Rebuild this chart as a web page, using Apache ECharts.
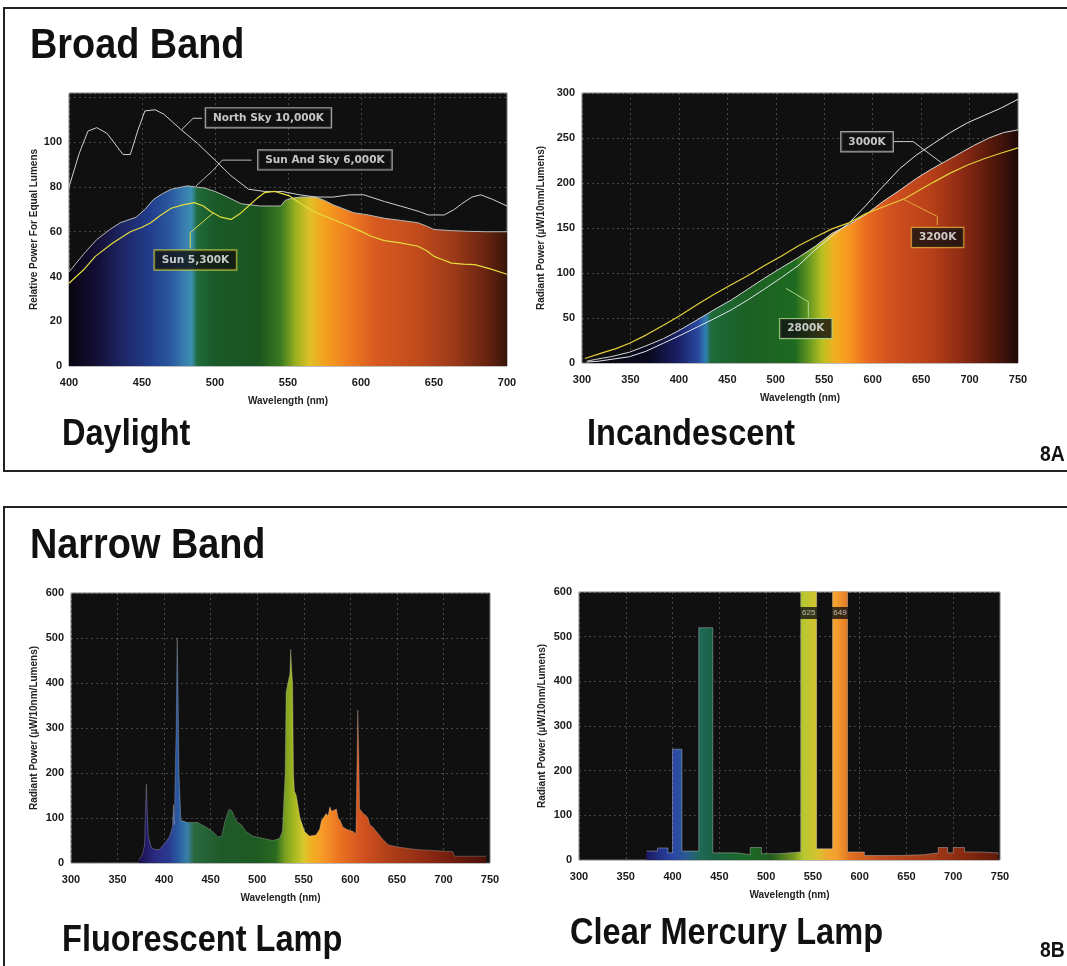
<!DOCTYPE html>
<html>
<head>
<meta charset="utf-8">
<script src="https://cdn.jsdelivr.net/npm/echarts@6/dist/echarts.min.js"></script>
<style>
html,body{margin:0;padding:0;background:#fff;}
#c{width:1067px;height:966px;}
</style>
</head>
<body>
<div id="c"></div>
<script>
// ---------------- DATA ----------------
// Daylight (relative power for equal lumens)
const dayNorthSky = [[400,80],[407,95],[413,105],[419,106.5],[426,104],[433,98],[437,94.5],[442,94.5],[447,105],[452,114],[459,114.5],[465,112.5],[471,109],[477,105.5],[488,99.5],[500,92],[511,85],[523,79],[534,78],[546,78],[558,76.5],[569,75.5],[581,75.5],[592,76.5],[602,76.5],[616,73.5],[627,71.5],[640,69],[646,67.5],[657,67.5],[664,70],[669,72.5],[676,75.5],[682,76.5],[690,74.5],[700,71.5]];
const daySunAndSky = [[400,42],[410,50],[419,56.5],[428,61],[435,64],[446,66.5],[452,70],[458,74.5],[464,77],[470,79],[481,80.5],[493,79.5],[500,78],[507,76],[518,72.5],[531,71.5],[545,71.5],[548,74],[553,75],[558,75.5],[569,75.5],[575,74],[581,72],[595,68.5],[605,67.5],[616,66],[628,65],[639,64],[645,62.5],[650,61],[662,60.5],[673,60.2],[685,60],[700,60]];
const daySun = [[400,37],[410,43],[418,49],[430,55],[442,60],[450,62],[456,64],[463,67.5],[470,70.5],[478,72],[486,73],[492,71.5],[497,69],[504,66.5],[511,65.5],[517,68],[523,71.5],[529,75],[534,77.5],[541,78],[546,77],[551,76],[558,73],[565,70],[573,67.5],[581,65.5],[590,63],[599,60.5],[607,58],[616,56],[627,55],[639,53.5],[645,51.5],[650,49],[656,47.5],[662,46],[670,45.5],[678,45.3],[688,43.5],[700,41]];
const dayNames = ['North Sky 10,000K','Sun And Sky 6,000K','Sun 5,300K'];

// Incandescent (radiant power)
const inc2800 = [[305,1],[317,2],[330,4],[349,7],[366,13],[384,22],[400,30],[419,40],[436,49],[454,59],[471,70],[488,82],[506,95],[523,108],[541,126],[558,141],[576,156],[593,175],[607,192],[628,216],[645,231],[663,244],[680,256],[698,267],[715,275],[732,283],[750,293]];
const inc3000 = [[305,2],[314,4],[330,7],[349,12],[366,19],[384,27],[400,36],[419,48],[436,59],[454,70],[471,82],[488,94],[506,106],[523,117],[541,130],[558,144],[576,154],[593,165],[610,179],[628,192],[645,205],[660,215],[675,224],[690,233],[705,242],[720,250],[735,256],[750,259]];
const inc3200 = [[303,5],[320,11],[335,16],[349,22],[366,31],[384,42],[400,52],[419,65],[436,76],[454,87],[471,97],[488,108],[506,119],[523,130],[541,140],[558,149],[576,156],[593,166],[610,173],[634,183],[648,192],[663,201],[680,211],[698,220],[715,227],[732,233],[750,239]];
const incNames = ['2800K','3000K','3200K'];

// Fluorescent lamp
const fluorescent = [[373,8],[377,20],[379,40],[380,120],[381,175],[382,110],[383,60],[386,35],[390,30],[395,30],[399,40],[403,50],[406,60],[409,80],[410,130],[411,85],[412,210],[413,300],[414,500],[415,380],[416,200],[418,95],[425,90],[436,90],[445,80],[452,70],[458,58],[462,60],[465,90],[468,110],[470,120],[473,115],[476,100],[479,90],[483,85],[488,70],[495,60],[506,55],[517,50],[524,55],[527,70],[530,200],[531,380],[533,400],[535,420],[536,475],[537,430],[538,400],[539,200],[540,160],[542,150],[546,100],[551,70],[556,60],[563,62],[567,75],[569,95],[571,100],[574,110],[576,105],[578,125],[580,115],[582,118],[585,120],[587,100],[589,95],[592,80],[596,75],[600,72],[603,70],[606,65],[607,200],[608,340],[609,250],[610,120],[614,110],[617,105],[619,100],[621,85],[624,80],[628,70],[632,60],[636,50],[641,40],[653,35],[671,30],[689,28],[710,25],[712,15],[746,15]];

// Clear mercury lamp: [bin start (nm), value] held until next bin start
const mercury = [[372,20],[384,27],[395,16],[400,248],[410,20],[428,520],[443,16],[468,12],[483,28],[495,14],[512,18],[537,625],[554,25],[571,649],[587,18],[605,10],[641,12],[669,16],[684,28],[694,16],[700,28],[712,18],[727,16],[748,12]];

// ---------------- STYLE ----------------
const FONT = '"Liberation Sans", Arial, sans-serif';
const daySpec = [[400,'#0a0510'],[420,'#141038'],[435,'#1c2460'],[455,'#223c8c'],[470,'#2a5aa0'],[480,'#3a80b0'],[484,'#3a90b0'],[488,'#206a3a'],[500,'#1a5a28'],[530,'#1a5520'],[545,'#3a7a20'],[555,'#9ab020'],[565,'#e0c028'],[575,'#f4a020'],[590,'#f08020'],[610,'#d85a20'],[640,'#c04a1c'],[665,'#9a3818'],[685,'#6a2410'],[700,'#3a140a']];
const incSpec = [[300,'#08080f'],[370,'#0a0a20'],[400,'#1a2068'],[420,'#2a48a0'],[428,'#3080b0'],[433,'#1f6a3a'],[470,'#1c6024'],[520,'#1e6a20'],[535,'#6a9a20'],[548,'#b8c020'],[560,'#f0b020'],[575,'#f89820'],[595,'#e86820'],[620,'#d05020'],[660,'#b84018'],[690,'#902c14'],[720,'#5a1a0c'],[750,'#200a06']];
const fluSpec = [[373,'#1a1050'],[390,'#2a2a80'],[405,'#2a3a90'],[415,'#2a5aa0'],[425,'#3a80a8'],[432,'#2a6a40'],[460,'#1f5a2a'],[500,'#1e5a22'],[520,'#2a6a20'],[530,'#7aa020'],[540,'#a8b820'],[550,'#d8c830'],[558,'#f0b020'],[570,'#f89a28'],[590,'#e87020'],[615,'#d05020'],[640,'#b04018'],[680,'#902c14'],[715,'#6a1a0c'],[746,'#4a1208']];
const merSpec = [[372,'#1a1a60'],[400,'#2a46a8'],[415,'#2a5a90'],[428,'#1f6a5a'],[445,'#1a6040'],[480,'#1c6a28'],[505,'#205a20'],[530,'#7a9a20'],[540,'#b8c830'],[556,'#d8c030'],[565,'#f0a830'],[575,'#f5a030'],[590,'#e07020'],[620,'#c05020'],[680,'#a03a18'],[710,'#882a10'],[748,'#601a0a']];

function specGradient(stops, data){
  const x0 = data[0][0], x1 = data[data.length-1][0];
  const cs = stops.map(([wl,c]) => ({offset: Math.min(1, Math.max(0, (wl - x0) / (x1 - x0))), color: c}));
  return new echarts.graphic.LinearGradient(0,0,1,0, cs);
}

const grids = [
  {left:69, top:93, width:438, height:273},
  {left:582, top:93, width:436, height:270},
  {left:71, top:593, width:419, height:270},
  {left:579, top:592, width:421, height:268}
].map(g => Object.assign(g, {show:true, backgroundColor:'#101010', borderColor:'#7a7a7a', borderWidth:1, containLabel:false}));

const splitStyle = {show:true, lineStyle:{color:'rgba(200,200,200,0.30)', type:[2,3], width:1}};
const tickLabel = {fontSize:11, fontWeight:'bold', color:'#1a1a1a', fontFamily:FONT};
const axisNameStyle = {fontSize:10, fontWeight:'bold', color:'#222', fontFamily:FONT};

function xAx(gi, min, max){
  return {type:'value', gridIndex:gi, min, max, interval:50,
    name:'Wavelength (nm)', nameLocation:'middle', nameGap:30, nameTextStyle:axisNameStyle,
    axisLine:{show:false}, axisTick:{show:false},
    axisLabel:Object.assign({margin:11}, tickLabel), splitLine:splitStyle};
}
function yAx(gi, min, max, interval, name, gap, showMax){
  return {type:'value', gridIndex:gi, min, max, interval,
    name, nameLocation:'middle', nameGap:gap, nameTextStyle:axisNameStyle,
    axisLine:{show:false}, axisTick:{show:false},
    axisLabel:Object.assign({margin:7, formatter: v => (v <= showMax ? String(v) : '')}, tickLabel),
    splitLine:splitStyle};
}

function lineS(gi, data, color, width, extra){
  return Object.assign({type:'line', xAxisIndex:gi, yAxisIndex:gi, data, showSymbol:false, symbol:'none',
    lineStyle:{color, width}, silent:true, z:3}, extra || {});
}
function leader(gi, pts, color){
  return {type:'line', xAxisIndex:gi, yAxisIndex:gi, data:pts, showSymbol:false, symbol:'none',
    lineStyle:{color, width:1}, silent:true, z:4};
}
function boxLabel(gi, name, at, border){
  return {type:'scatter', xAxisIndex:gi, yAxisIndex:gi, symbolSize:0, silent:true, z:6,
    data:[{name, value:at}],
    label:{show:true, position:'inside', formatter:'{b}', color:'#f2f2f2', fontWeight:'bold', fontSize:10.5,
      fontFamily:'"DejaVu Sans", sans-serif', backgroundColor:'#121212', borderColor:border, borderWidth:1.2, padding:[4,7]}};
}

// Mercury out-of-range labels derived from data
const mercuryOver = [];
mercury.forEach((p,i) => { if (p[1] > 600 && i < mercury.length - 1) mercuryOver.push({name:String(p[1]), value:[(p[0] + mercury[i+1][0]) / 2, 553]}); });

const series = [
  // Daylight
  lineS(0, daySunAndSky, '#b4b8b4', 1, {areaStyle:{color:specGradient(daySpec, daySunAndSky), opacity:1}, z:2}),
  lineS(0, dayNorthSky, '#cfcfcf', 1),
  lineS(0, daySun, '#e4dc3c', 1.2),
  leader(0, [[477,105.5],[485,110.7],[491,110.7]], '#cfcfcf'),
  leader(0, [[487,80.5],[498,87],[505,92],[525,92]], '#b4b8b4'),
  leader(0, [[499,68.5],[483,59.6],[483,52.6]], '#d8d848'),
  boxLabel(0, dayNames[0], [536.6,110.9], '#c8c8c8'),
  boxLabel(0, dayNames[1], [575.3,92.1], '#c8c8c8'),
  boxLabel(0, dayNames[2], [486.6,47.4], '#c8d040'),
  // Incandescent
  lineS(1, inc3000, '#d6d6d6', 1, {areaStyle:{color:specGradient(incSpec, inc3000), opacity:1}, z:2}),
  lineS(1, inc2800, '#dfe6ea', 1),
  lineS(1, inc3200, '#e2cf3a', 1.2),
  leader(1, [[622,246],[641.8,246],[671,222.5]], '#cfcfcf'),
  leader(1, [[666.7,153.3],[666.7,162.8],[631.6,182]], '#e0a838'),
  leader(1, [[533.6,50.5],[533.6,68],[510.5,83]], '#a8d890'),
  boxLabel(1, incNames[1], [594.2,245.8], '#c8c8c8'),
  boxLabel(1, incNames[2], [667,139.4], '#e0a838'),
  boxLabel(1, incNames[0], [531,38.2], '#a8d890'),
  // Fluorescent
  lineS(2, fluorescent, 'rgba(235,235,235,0.35)', 0.7, {areaStyle:{color:specGradient(fluSpec, fluorescent), opacity:1}}),
  // Mercury
  lineS(3, mercury, 'rgba(235,235,235,0.35)', 1, {step:'end', areaStyle:{color:specGradient(merSpec, mercury), opacity:1}}),
  {type:'scatter', xAxisIndex:3, yAxisIndex:3, symbolSize:0, silent:true, z:6, data:mercuryOver,
    label:{show:true, position:'inside', formatter:'{b}', color:'#dcdcdc', fontSize:8, fontFamily:FONT,
      backgroundColor:'#111', padding:[2,3]}}
];

function txt(text, x, y, size, scale){
  return {type:'text', x, y, scaleX:scale, silent:true,
    style:{text, fill:'#111', font:'bold ' + size + 'px ' + FONT, verticalAlign:'middle', align:'left'}};
}

const option = {
  animation:false,
  backgroundColor:'#ffffff',
  grid: grids,
  xAxis: [xAx(0,400,700), xAx(1,300,750), xAx(2,300,750), xAx(3,300,750)],
  yAxis: [
    yAx(0,0,122,20,'Relative Power For Equal Lumens',30,100),
    yAx(1,0,300,50,'Radiant Power (\u00b5W/10nm/Lumens)',36,300),
    yAx(2,0,600,100,'Radiant Power (\u00b5W/10nm/Lumens)',32,600),
    yAx(3,0,600,100,'Radiant Power (\u00b5W/10nm/Lumens)',32,600)
  ],
  series,
  graphic:{elements:[
    {type:'rect', silent:true, z:-10, shape:{x:4,y:8,width:1080,height:463}, style:{fill:'none', stroke:'#222', lineWidth:2}},
    {type:'rect', silent:true, z:-10, shape:{x:4,y:507,width:1080,height:470}, style:{fill:'none', stroke:'#222', lineWidth:2}},
    txt('Broad Band', 30, 46, 43, 0.88),
    txt('Daylight', 62, 435, 37, 0.88),
    txt('Incandescent', 587, 435, 37, 0.88),
    txt('8A', 1040, 455, 22, 0.88),
    txt('Narrow Band', 30, 546, 43, 0.88),
    txt('Fluorescent Lamp', 62, 941, 37, 0.88),
    txt('Clear Mercury Lamp', 570, 934, 37, 0.88),
    txt('8B', 1040, 951, 22, 0.88)
  ]}
};

const chart = echarts.init(document.getElementById('c'), null, {renderer:'canvas'});
chart.setOption(option);
</script>
</body>
</html>
